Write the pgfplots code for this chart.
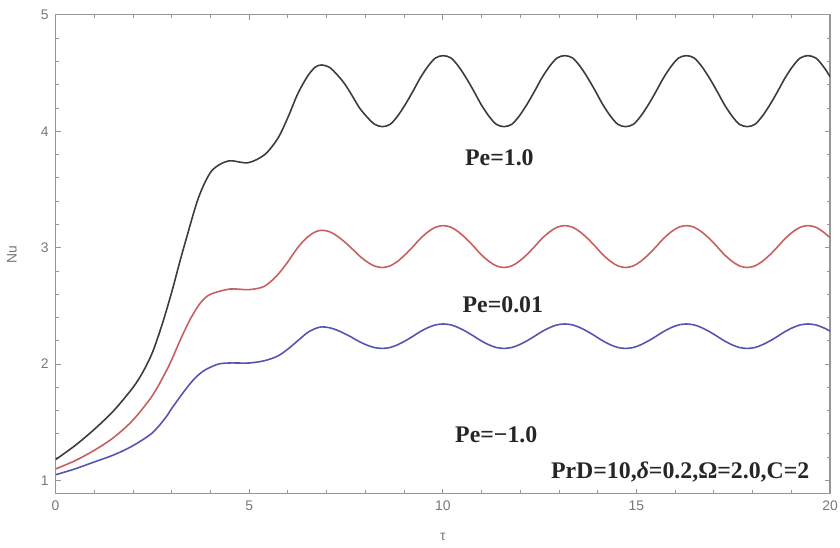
\documentclass[border=0pt]{standalone}
\usepackage{fontspec}
\setmainfont{Liberation Serif}
\newfontfamily\sansf{Liberation Sans}
\usepackage{pgfplots}
\pgfplotsset{compat=1.18}
\definecolor{cblack}{RGB}{60,60,60}
\definecolor{cred}{RGB}{200,95,95}
\definecolor{cblue}{RGB}{85,85,175}
\definecolor{axgray}{RGB}{150,150,150}
\definecolor{lblgray}{RGB}{120,120,120}
\begin{document}
\begin{tikzpicture}
\begin{axis}[
  scale only axis, width=390pt, height=241pt,
  xmin=0, xmax=20, ymin=0.889, ymax=5.0,
  xtick={0,5,10,15,20}, ytick={1,2,3,4,5},
  minor x tick num=4, minor y tick num=4,
  tick align=inside,
  major tick length=2.5pt, minor tick length=1.5pt,
  axis line style={axgray, line width=0.6pt},
  every tick/.style={axgray, line width=0.5pt},
  /pgf/number format/assume math mode=true,
  tick label style={font=\sansf\fontsize{7}{8}\selectfont, text=lblgray},
  xlabel={\sansf\fontsize{7}{8}\selectfont τ},
  ylabel={\sansf\fontsize{7}{8}\selectfont Nu},
  every axis x label/.style={at={(axis description cs:0.5,-0.0913)}, anchor=center, text=lblgray},
  every axis y label/.style={at={(axis description cs:-0.0564,0.5)}, rotate=90, anchor=center, text=lblgray},
  clip=true,
]
% Pe = 1.0
\addplot[cblack, line width=0.8pt, smooth] coordinates {
(0,1.18) (0.5,1.30) (1.0,1.44) (1.5,1.60) (2.0,1.80) (2.25,1.93) (2.5,2.10) (2.75,2.34) (3.0,2.62) (3.2,2.87) (3.36,3.06) (3.69,3.43) (4.03,3.66) (4.46,3.745) (4.97,3.73) (5.4,3.80) (5.74,3.94) (6.0,4.12) (6.25,4.32) (6.5,4.47) (6.7,4.55) (6.87,4.57)
(7.07,4.55) (7.26,4.49) (7.46,4.41) (7.66,4.305) (7.85,4.20) (8.05,4.12) (8.24,4.06) (8.44,4.04)
(8.64,4.06) (8.83,4.13) (9.03,4.23) (9.23,4.345) (9.42,4.46) (9.62,4.56) (9.81,4.63) (10.01,4.65)
(10.21,4.63) (10.40,4.56) (10.60,4.46) (10.80,4.345) (10.99,4.23) (11.19,4.13) (11.38,4.06) (11.58,4.04)
(11.78,4.06) (11.97,4.13) (12.17,4.23) (12.37,4.345) (12.56,4.46) (12.76,4.56) (12.95,4.63) (13.15,4.65)
(13.35,4.63) (13.54,4.56) (13.74,4.46) (13.94,4.345) (14.13,4.23) (14.33,4.13) (14.52,4.06) (14.72,4.04)
(14.92,4.06) (15.11,4.13) (15.31,4.23) (15.51,4.345) (15.70,4.46) (15.90,4.56) (16.09,4.63) (16.29,4.65)
(16.49,4.63) (16.68,4.56) (16.88,4.46) (17.08,4.345) (17.27,4.23) (17.47,4.13) (17.66,4.06) (17.86,4.04)
(18.06,4.06) (18.25,4.13) (18.45,4.23) (18.65,4.345) (18.84,4.46) (19.04,4.56) (19.23,4.63) (19.43,4.65)
(19.63,4.63) (19.82,4.56) (20.0,4.47)
};
% Pe = 0.01
\addplot[cred, line width=0.8pt, smooth] coordinates {
(0,1.10) (0.5,1.17) (1.0,1.26) (1.5,1.37) (2.0,1.52) (2.5,1.73) (2.84,1.93) (3.0,2.04) (3.25,2.23) (3.5,2.40) (3.75,2.53) (4.0,2.60) (4.5,2.645) (5.0,2.64) (5.4,2.67) (5.74,2.77) (6.0,2.88) (6.25,3.0) (6.5,3.09) (6.7,3.135) (6.87,3.15)
(7.07,3.138) (7.26,3.103) (7.46,3.051) (7.66,2.99) (7.85,2.929) (8.05,2.877) (8.24,2.842) (8.44,2.83)
(8.64,2.844) (8.83,2.883) (9.03,2.941) (9.23,3.01) (9.42,3.079) (9.62,3.137) (9.81,3.176) (10.01,3.19)
(10.21,3.176) (10.40,3.137) (10.60,3.079) (10.80,3.01) (10.99,2.941) (11.19,2.883) (11.38,2.844) (11.58,2.83)
(11.78,2.844) (11.97,2.883) (12.17,2.941) (12.37,3.01) (12.56,3.079) (12.76,3.137) (12.95,3.176) (13.15,3.19)
(13.35,3.176) (13.54,3.137) (13.74,3.079) (13.94,3.01) (14.13,2.941) (14.33,2.883) (14.52,2.844) (14.72,2.83)
(14.92,2.844) (15.11,2.883) (15.31,2.941) (15.51,3.01) (15.70,3.079) (15.90,3.137) (16.09,3.176) (16.29,3.19)
(16.49,3.176) (16.68,3.137) (16.88,3.079) (17.08,3.01) (17.27,2.941) (17.47,2.883) (17.66,2.844) (17.86,2.83)
(18.06,2.844) (18.25,2.883) (18.45,2.941) (18.65,3.01) (18.84,3.079) (19.04,3.137) (19.23,3.176) (19.43,3.19)
(19.63,3.176) (19.82,3.137) (20.0,3.085)
};
% Pe = -1.0
\addplot[cblue, line width=0.8pt, smooth] coordinates {
(0,1.05) (0.5,1.10) (1.0,1.16) (1.5,1.22) (2.0,1.30) (2.5,1.41) (2.84,1.54) (3.0,1.62) (3.35,1.78) (3.6,1.88) (3.86,1.95) (4.2,2.0) (4.5,2.01) (5.0,2.01) (5.4,2.03) (5.74,2.07) (6.0,2.13) (6.25,2.20) (6.5,2.27) (6.7,2.305) (6.87,2.32)
(7.07,2.313) (7.26,2.293) (7.46,2.263) (7.66,2.228) (7.85,2.192) (8.05,2.162) (8.24,2.142) (8.44,2.135)
(8.64,2.143) (8.83,2.166) (9.03,2.20) (9.23,2.24) (9.42,2.28) (9.62,2.314) (9.81,2.337) (10.01,2.345)
(10.21,2.337) (10.40,2.314) (10.60,2.28) (10.80,2.24) (10.99,2.20) (11.19,2.166) (11.38,2.143) (11.58,2.135)
(11.78,2.143) (11.97,2.166) (12.17,2.20) (12.37,2.24) (12.56,2.28) (12.76,2.314) (12.95,2.337) (13.15,2.345)
(13.35,2.337) (13.54,2.314) (13.74,2.28) (13.94,2.24) (14.13,2.20) (14.33,2.166) (14.52,2.143) (14.72,2.135)
(14.92,2.143) (15.11,2.166) (15.31,2.20) (15.51,2.24) (15.70,2.28) (15.90,2.314) (16.09,2.337) (16.29,2.345)
(16.49,2.337) (16.68,2.314) (16.88,2.28) (17.08,2.24) (17.27,2.20) (17.47,2.166) (17.66,2.143) (17.86,2.135)
(18.06,2.143) (18.25,2.166) (18.45,2.20) (18.65,2.24) (18.84,2.28) (19.04,2.314) (19.23,2.337) (19.43,2.345)
(19.63,2.337) (19.82,2.314) (20.0,2.284)
};
\node[anchor=base, font=\bfseries\fontsize{12}{14}\selectfont, text=black!85] at (axis cs:11.46,3.71) {Pe=1.0};
\node[anchor=base, font=\bfseries\fontsize{12}{14}\selectfont, text=black!85] at (axis cs:11.55,2.445) {Pe=0.01};
\node[anchor=base, font=\bfseries\fontsize{12}{14}\selectfont, text=black!85] at (axis cs:11.38,1.325) {Pe=−1.0};
\node[anchor=base, font=\bfseries\fontsize{12}{14}\selectfont, text=black!85] at (axis cs:16.13,1.02) {PrD=10,\textit{δ}=0.2,Ω=2.0,C=2};
\end{axis}
\pgfresetboundingbox
\path[use as bounding box] (-28pt,-27pt) rectangle (395pt,248.5pt);
\end{tikzpicture}
\end{document}
